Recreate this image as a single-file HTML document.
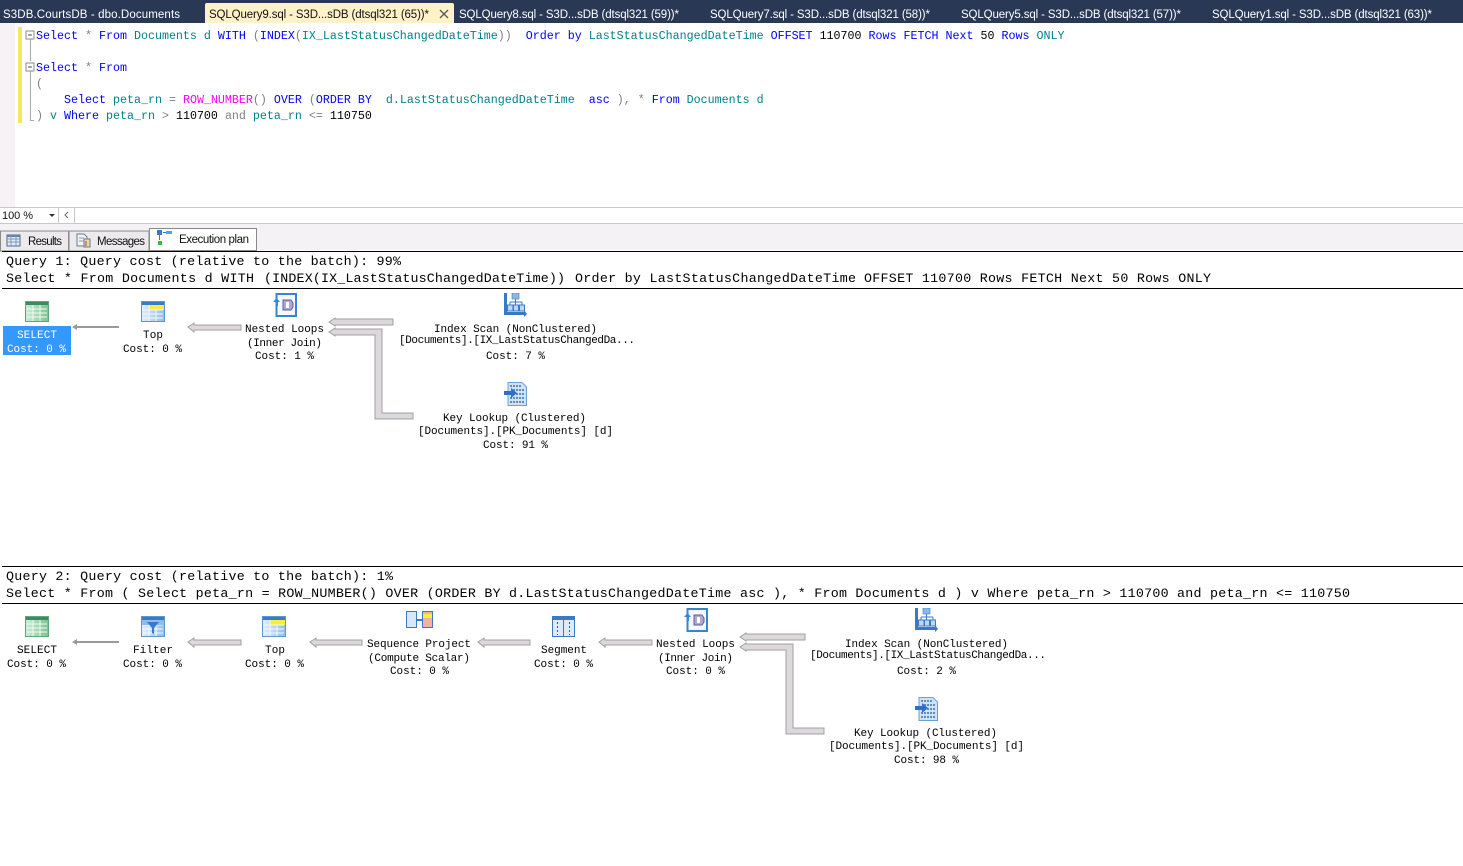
<!DOCTYPE html>
<html><head><meta charset="utf-8"><style>
html,body{margin:0;padding:0;background:#fff;width:1463px;height:866px;overflow:hidden}
svg{display:block}
.t{font:11.5px "Liberation Sans",sans-serif;fill:#fff}
.u{font:11.5px "Liberation Sans",sans-serif;fill:#111}
.c{font:11.67px "Liberation Mono",monospace;fill:#00808a;white-space:pre}
.k{fill:#0000ff}.g{fill:#808080}.m{fill:#ff00ff}.b{fill:#000}.n{fill:#00808a}
.p{font:13.33px "Liberation Mono",monospace;fill:#000;white-space:pre}
.l{font:11px "Liberation Mono",monospace;fill:#000;white-space:pre}
.a{fill:#dcd8dc;stroke:#a0a0a0;stroke-width:1}
</style></head><body>
<svg width="1463" height="866" viewBox="0 0 1463 866" xmlns="http://www.w3.org/2000/svg">
<defs>
<linearGradient id="gb" x1="0" y1="0" x2="1" y2="0"><stop offset="0" stop-color="#e4f0fc"/><stop offset="1" stop-color="#8fbcec"/></linearGradient>
<linearGradient id="gg" x1="0" y1="0" x2="1" y2="0"><stop offset="0" stop-color="#cfeeda"/><stop offset="1" stop-color="#7cc08f"/></linearGradient>
<symbol id="tb" viewBox="0 0 24 21"><rect width="24" height="21" fill="url(#gb)"/><rect width="24" height="4" fill="#3a7cc4"/><rect x="8" y="4" width="16" height="5" fill="#f5ee40"/><path d="M2 9h20M2 13h20M2 17h20M8 4v17M15 9v12" stroke="#f4f9fe"/><rect x=".5" y=".5" width="23" height="20" fill="none" stroke="#5f96d0"/></symbol>
<symbol id="sel" viewBox="0 0 24 21"><rect width="24" height="21" fill="url(#gg)"/><rect width="24" height="4" fill="#3c8a60"/><path d="M2 8h20M2 12h20M2 16h20M8 4v17M15 4v17" stroke="#f0fbf2"/><rect x=".5" y=".5" width="23" height="20" fill="none" stroke="#63a57c"/></symbol>
<symbol id="nl" viewBox="0 0 24 24"><rect x="3.500" y="1" width="19.500" height="22" fill="#f4f9ff" stroke="#3a84cc" stroke-width="2"/><path d="M10 7h8l2 3v4l-2 3h-8z" fill="#b0a8cc" stroke="#6a5a9a"/><path d="M13 9h3v6h-3z" fill="#fff"/><path d="M0 9l3.500-4 3.500 4H5v4H3V9z" fill="#2f8ad8"/></symbol>
<symbol id="is" viewBox="0 0 24 24"><path d="M1 0h3v19h17v-2l3 4-3 3v-2H1z" fill="#3a78c8"/><rect x="9" y="0" width="7" height="6" fill="#8cb8e8" stroke="#3a78c8" stroke-width=".6"/><path d="M12.500 6v3M7 9h12M7 9v3M12.500 9v3M19 9v3" stroke="#3a78c8"/><rect x="4.500" y="12" width="5.500" height="6" fill="#bcd8f4" stroke="#3a78c8"/><rect x="10.500" y="12" width="5" height="6" fill="#bcd8f4" stroke="#3a78c8"/><rect x="16.500" y="12" width="5" height="6" fill="#bcd8f4" stroke="#3a78c8"/></symbol>
<symbol id="kl" viewBox="0 0 24 24"><path d="M4 .5h14l4.500 4.500v18.500H4z" fill="#cfe3f6" stroke="#6aa0d8"/><path d="M6 4h11M9 8h11M9 12h11M6 16h14M6 20h14" stroke="#5580b0" stroke-width="1.800" stroke-dasharray="2 1"/><path d="M0 9h7V6l6 5-6 5v-3H0z" fill="#2f70c8"/></symbol>
</defs>

<!-- title tabs -->
<rect width="1463" height="23" fill="#293955"/>
<path d="M205 23V5q0-2 2-2h245q2 0 2 2v18z" fill="#fff1c8"/>
<text class="t" x="3" y="18" textLength="177">S3DB.CourtsDB - dbo.Documents</text>
<text class="u" x="209" y="18" textLength="220">SQLQuery9.sql - S3D...sDB (dtsql321 (65))*</text>
<path d="M440 10l8 8M448 10l-8 8" stroke="#5a5a5a" stroke-width="1.400"/>
<text class="t" x="459" y="18" textLength="220">SQLQuery8.sql - S3D...sDB (dtsql321 (59))*</text>
<text class="t" x="710" y="18" textLength="220">SQLQuery7.sql - S3D...sDB (dtsql321 (58))*</text>
<text class="t" x="961" y="18" textLength="220">SQLQuery5.sql - S3D...sDB (dtsql321 (57))*</text>
<text class="t" x="1212" y="18" textLength="220">SQLQuery1.sql - S3D...sDB (dtsql321 (63))*</text>

<!-- editor -->
<rect y="23" width="15" height="184" fill="#f6f2f6"/>
<rect x="18" y="27" width="4" height="96" fill="#f5e760"/>
<path d="M30.500 39v22M30.500 71v49.500H34" stroke="#a8a8a8" fill="none"/>
<rect x="26" y="31" width="8" height="8" fill="#fff" stroke="#8a8a8a"/><path d="M28 35h4" stroke="#444"/>
<rect x="26" y="63" width="8" height="8" fill="#fff" stroke="#8a8a8a"/><path d="M28 67h4" stroke="#444"/>
<text class="c" x="36" y="39"><tspan class="k">Select</tspan> <tspan class="g">*</tspan> <tspan class="k">From</tspan> Documents d <tspan class="k">WITH</tspan> <tspan class="g">(</tspan><tspan class="k">INDEX</tspan><tspan class="g">(</tspan>IX_LastStatusChangedDateTime<tspan class="g">))</tspan>  <tspan class="k">Order by</tspan> LastStatusChangedDateTime <tspan class="k">OFFSET</tspan> <tspan class="b">110700</tspan> <tspan class="k">Rows FETCH Next</tspan> <tspan class="b">50</tspan> <tspan class="k">Rows</tspan> <tspan class="n">ONLY</tspan></text>
<text class="c" x="36" y="71"><tspan class="k">Select</tspan> <tspan class="g">*</tspan> <tspan class="k">From</tspan></text>
<text class="c" x="36" y="87"><tspan class="g">(</tspan></text>
<text class="c" x="64" y="103"><tspan class="k">Select</tspan> peta_rn <tspan class="g">=</tspan> <tspan class="m">ROW_NUMBER</tspan><tspan class="g">()</tspan> <tspan class="k">OVER</tspan> <tspan class="g">(</tspan><tspan class="k">ORDER BY</tspan>  d.LastStatusChangedDateTime  <tspan class="k">asc</tspan> <tspan class="g">),</tspan> <tspan class="g">*</tspan> <tspan class="k">From</tspan> Documents d</text>
<text class="c" x="36" y="119"><tspan class="g">)</tspan> v <tspan class="k">Where</tspan> peta_rn <tspan class="g">&gt;</tspan> <tspan class="b">110700</tspan> <tspan class="g">and</tspan> peta_rn <tspan class="g">&lt;=</tspan> <tspan class="b">110750</tspan></text>

<!-- zoom / scrollbar -->
<rect y="207" width="1463" height="1" fill="#c8c8c8"/>
<rect y="208" width="1463" height="15" fill="#fff"/>
<rect y="223" width="1463" height="1" fill="#c8c8c8"/>
<rect x="58" y="208" width="1" height="15" fill="#c8c8c8"/><rect x="74" y="208" width="1" height="15" fill="#c8c8c8"/>
<text class="u" x="2" y="219" textLength="31" style="font-size:11px">100 %</text>
<path d="M49 214h6l-3 3z" fill="#333"/>
<path d="M68 212l-3 3 3 3" fill="none" stroke="#666"/>

<!-- result tabs -->
<rect y="224" width="1463" height="26" fill="#f5f2f5"/>
<rect x="0.500" y="231" width="68" height="20" fill="#eceaec" stroke="#8a8a8a"/>
<rect x="69" y="231" width="80" height="20" fill="#eceaec" stroke="#8a8a8a"/>
<rect x="149.500" y="228.500" width="107" height="22" fill="#fff" stroke="#8a8a8a"/>
<rect x="7" y="235" width="13" height="11" fill="#e4ecf6" stroke="#4a6a90"/><rect x="7" y="235" width="13" height="2" fill="#5a80b0"/><path d="M7 239h13M7 242h13M11 235v11M16 235v11" stroke="#7a9ac0"/>
<path d="M77 234h7l3 3v9H77z" fill="#f0f4fa" stroke="#6a7a8a"/><path d="M79 238h5M79 241h5" stroke="#8a9ab0"/><rect x="84" y="239" width="6" height="8" fill="#e8d8b0" stroke="#6a7a8a"/><path d="M86 241v5" stroke="#c04030"/>
<rect x="157" y="230" width="5" height="5" fill="#3a78d0"/><rect x="166" y="231" width="6" height="3" fill="#5aa0e0"/><path d="M163 232.500h3" stroke="#3a78d0"/><path d="M159.500 235v5" stroke="#3a78d0"/><rect x="158" y="241" width="4" height="4" fill="#30c040"/>
<text class="u" x="28" y="245" textLength="34">Results</text>
<text class="u" x="97" y="245" textLength="48">Messages</text>
<text class="u" x="179" y="243" textLength="70">Execution plan</text>
<rect x="2" y="251" width="1461" height="1" fill="#000"/>

<!-- Query 1 -->
<text class="p" x="6" y="265" textLength="395">Query 1: Query cost (relative to the batch): 99%</text>
<text class="p" x="6" y="282" textLength="248">Select * From Documents d WITH</text>
<text class="p" x="264" y="282" textLength="301">(INDEX(IX_LastStatusChangedDateTime))</text>
<text class="p" x="575" y="282" textLength="281">Order by LastStatusChangedDateTime</text>
<text class="p" x="864" y="282" textLength="347">OFFSET 110700 Rows FETCH Next 50 Rows ONLY</text>
<rect x="2" y="288" width="1461" height="1" fill="#000"/>
<rect x="3" y="326" width="68" height="29" fill="#3399ff"/>
<use href="#sel" x="25" y="301" width="24" height="21"/>
<use href="#tb" x="141" y="301" width="24" height="21"/>
<use href="#nl" x="273" y="293" width="24" height="24"/>
<use href="#is" x="503" y="293" width="24" height="24"/>
<use href="#kl" x="504" y="382" width="24" height="24"/>

<path d="M72 327l5-3v2h42v2H77v2z" fill="#9a9a9a"/>
<path class="a" d="M188 327l6-4v2h47v5h-47v2z"/>
<path class="a" d="M329 322l6-4v1h58v6h-58v1z"/>
<path class="a" d="M329 332l6-4v1h47v84h31v6h-38v-84h-40v1z"/>

<text class="l" x="17" y="338" textLength="40" style="fill:#fff">SELECT</text>
<text class="l" x="7" y="352" textLength="59" style="fill:#fff">Cost: 0 %</text>
<text class="l" x="143" y="338" textLength="20">Top</text>
<text class="l" x="123" y="352" textLength="59">Cost: 0 %</text>
<text class="l" x="245" y="332" textLength="79">Nested Loops</text>
<text class="l" x="247" y="346" textLength="75">(Inner Join)</text>
<text class="l" x="255" y="359" textLength="59">Cost: 1 %</text>
<text class="l" x="434" y="332" textLength="163">Index Scan (NonClustered)</text>
<text class="l" x="399" y="343" textLength="236">[Documents].[IX_LastStatusChangedDa...</text>
<text class="l" x="486" y="359" textLength="59">Cost: 7 %</text>
<text class="l" x="443" y="421" textLength="143">Key Lookup (Clustered)</text>
<text class="l" x="418" y="434" textLength="195">[Documents].[PK_Documents] [d]</text>
<text class="l" x="483" y="448" textLength="65">Cost: 91 %</text>

<!-- Query 2 -->
<rect x="2" y="566" width="1461" height="1" fill="#000"/>
<text class="p" x="6" y="580" textLength="387">Query 2: Query cost (relative to the batch): 1%</text>
<text class="p" x="6" y="597" textLength="1344">Select * From ( Select peta_rn = ROW_NUMBER() OVER (ORDER BY d.LastStatusChangedDateTime asc ), * From Documents d ) v Where peta_rn &gt; 110700 and peta_rn &lt;= 110750</text>
<rect x="2" y="603" width="1461" height="1" fill="#000"/>
<use href="#sel" x="25" y="616" width="24" height="21"/>
<use href="#tb" x="141" y="616" width="24" height="21"/>
<rect x="142" y="620" width="22" height="5" fill="#8fbcec"/>
<path d="M147 622h12l-5 6v6l-2-1v-5z" fill="#3a78c8"/>
<use href="#tb" x="262" y="616" width="24" height="21"/>
<rect x="406.500" y="611.500" width="10" height="16" fill="#d8e8f8" stroke="#3a78c0"/><rect x="422.500" y="611.500" width="10" height="16" fill="#f4b0a0" stroke="#3a78c0"/><rect x="423" y="614" width="9" height="4" fill="#f5ee40"/><path d="M416 620h6" stroke="#3a78c8" stroke-width="2"/>
<rect x="552.500" y="616.500" width="22" height="20" fill="#dceafa" stroke="#3a78c0"/><rect x="552" y="616" width="23" height="4" fill="#3a7cc4"/><path d="M563.500 616v21" stroke="#3a78c0"/><path d="M557.500 622v13M569.500 622v13" stroke="#335a90" stroke-dasharray="2 2"/>
<use href="#nl" x="684" y="608" width="24" height="24"/>
<use href="#is" x="914" y="608" width="24" height="24"/>
<use href="#kl" x="915" y="697" width="24" height="24"/>

<path d="M72 642l5-3v2h42v2H77v2z" fill="#9a9a9a"/>
<path class="a" d="M188 642l6-4v2h47v5h-47v2z"/>
<path class="a" d="M310 642l6-4v2h46v5h-46v2z"/>
<path class="a" d="M478 642l6-4v2h46v5h-46v2z"/>
<path class="a" d="M599 642l6-4v2h47v5h-47v2z"/>
<path class="a" d="M740 637l6-4v1h59v6h-59v1z"/>
<path class="a" d="M740 647l6-4v1h47v84h31v6h-38v-84h-40v1z"/>

<text class="l" x="17" y="653" textLength="40">SELECT</text>
<text class="l" x="7" y="667" textLength="59">Cost: 0 %</text>
<text class="l" x="133" y="653" textLength="40">Filter</text>
<text class="l" x="123" y="667" textLength="59">Cost: 0 %</text>
<text class="l" x="265" y="653" textLength="20">Top</text>
<text class="l" x="245" y="667" textLength="59">Cost: 0 %</text>
<text class="l" x="367" y="647" textLength="104">Sequence Project</text>
<text class="l" x="368" y="661" textLength="102">(Compute Scalar)</text>
<text class="l" x="390" y="674" textLength="59">Cost: 0 %</text>
<text class="l" x="541" y="653" textLength="46">Segment</text>
<text class="l" x="534" y="667" textLength="59">Cost: 0 %</text>
<text class="l" x="656" y="647" textLength="79">Nested Loops</text>
<text class="l" x="658" y="661" textLength="75">(Inner Join)</text>
<text class="l" x="666" y="674" textLength="59">Cost: 0 %</text>
<text class="l" x="845" y="647" textLength="163">Index Scan (NonClustered)</text>
<text class="l" x="810" y="658" textLength="236">[Documents].[IX_LastStatusChangedDa...</text>
<text class="l" x="897" y="674" textLength="59">Cost: 2 %</text>
<text class="l" x="854" y="736" textLength="143">Key Lookup (Clustered)</text>
<text class="l" x="829" y="749" textLength="195">[Documents].[PK_Documents] [d]</text>
<text class="l" x="894" y="763" textLength="65">Cost: 98 %</text>
</svg>
</body></html>
